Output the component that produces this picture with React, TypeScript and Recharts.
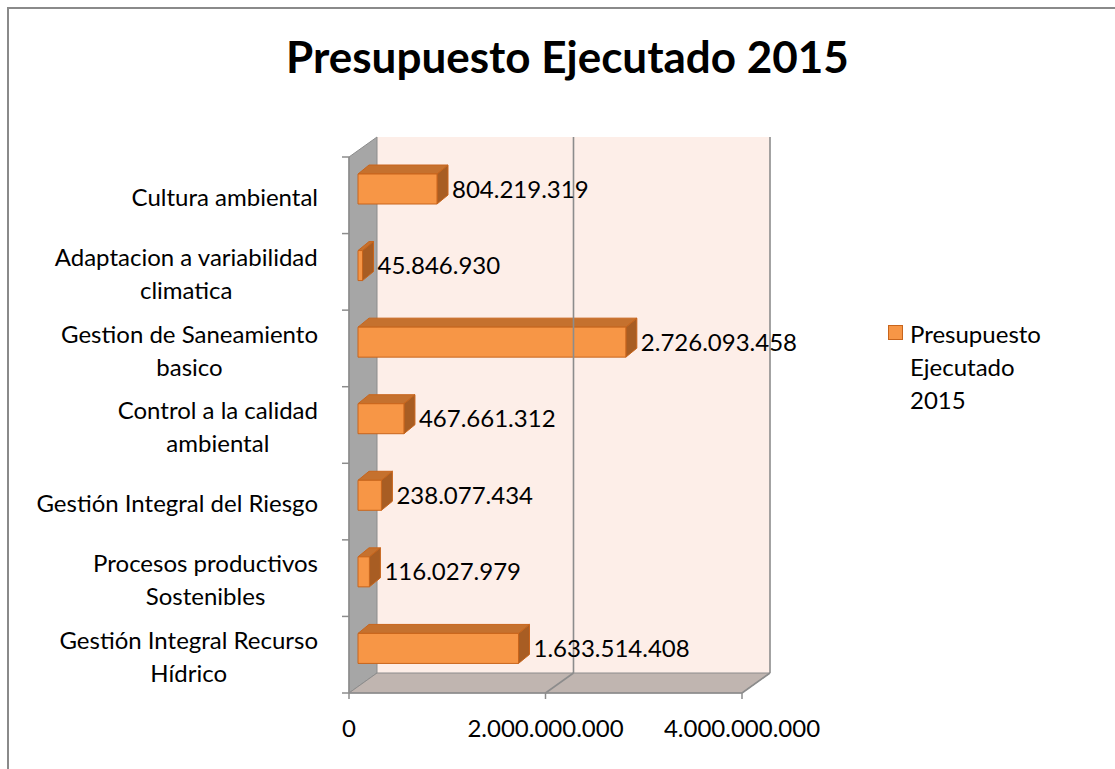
import React from 'react'
import { BarChart, Bar, XAxis, YAxis, ReferenceArea, ReferenceLine, LabelList, Legend } from 'recharts'

const title = 'Presupuesto Ejecutado 2015'
const seriesName = 'Presupuesto Ejecutado 2015'
const legendLines = ['Presupuesto', 'Ejecutado', '2015']

// top to bottom, as in the picture
const categories = [
  'Cultura ambiental',
  'Adaptacion a variabilidad\nclimatica',
  'Gestion de Saneamiento\nbasico',
  'Control a la calidad\nambiental',
  'Gestión Integral del Riesgo',
  'Procesos productivos\nSostenibles',
  'Gestión Integral Recurso\nHídrico',
]
const values = [804219319, 45846930, 2726093458, 467661312, 238077434, 116027979, 1633514408]
const xTicks = [0, 2000000000, 4000000000]

const data = categories.map((name, i) => ({ name, value: values[i] }))

const FONT = 'Lato, "Open Sans", sans-serif'
const FS = 24
const LINE_H = 33

const W = 1115
const H = 769
const PLOT_LEFT = 349
const PLOT_RIGHT = 742
const PLOT_TOP = 157
const PLOT_BOTTOM = 693
const BAND = (PLOT_BOTTOM - PLOT_TOP) / categories.length

// depth of the walls, position of the bars in depth, bar thickness
const DX = 28, DY = -20
const BX = 9, BY = -6
const TX = 11, TY = -9

const FRONT = '#F79646'
const TOP = '#C5712E'
const SIDE = '#A85D23'
const EDGE = '#C8651C'
const GRID = '#8C8C8C'

const fmt = (v: number) => String(Math.round(v)).replace(/\B(?=(\d{3})+(?!\d))/g, '.')

let ctx: CanvasRenderingContext2D | null = null
const measure = (s: string) => {
  if (!ctx) ctx = document.createElement('canvas').getContext('2d')
  if (!ctx) return s.length * FS * 0.5
  ctx.font = `${FS}px ${FONT}`
  return ctx.measureText(s).width
}

const Walls = (props: any) => {
  const { x, y, width, height } = props
  const b = y + height
  return (
    <g>
      <rect x={x + DX} y={y + DY} width={width} height={height} fill="#FDEEE8" />
      <polygon
        points={`${x},${y} ${x + DX},${y + DY} ${x + DX},${b + DY} ${x},${b}`}
        fill="#A6A6A6" stroke={GRID} strokeWidth={1}
      />
      <polygon
        points={`${x},${b} ${x + DX},${b + DY} ${x + width + DX},${b + DY} ${x + width},${b}`}
        fill="#C0B5B0" stroke={GRID} strokeWidth={1}
      />
    </g>
  )
}

const WallLine = (props: any) => {
  const { x1, y1, y2 } = props
  const top = Math.min(y1, y2)
  const bot = Math.max(y1, y2)
  return (
    <g stroke={GRID} strokeWidth={1.6} fill="none">
      <line x1={x1 + DX} y1={top + DY} x2={x1 + DX} y2={bot + DY} />
      <line x1={x1} y1={bot} x2={x1 + DX} y2={bot + DY} />
    </g>
  )
}

const Box3D = (props: any) => {
  const { x, y, width, height } = props
  const w = Math.max(width, 0)
  const fx = x + BX
  const fy = y + BY
  return (
    <g strokeWidth={1} stroke={EDGE} strokeLinejoin="round">
      <polygon points={`${fx},${fy} ${fx + TX},${fy + TY} ${fx + w + TX},${fy + TY} ${fx + w},${fy}`} fill={TOP} />
      <polygon points={`${fx + w},${fy} ${fx + w + TX},${fy + TY} ${fx + w + TX},${fy + height + TY} ${fx + w},${fy + height}`} fill={SIDE} />
      <rect x={fx} y={fy} width={w} height={height} fill={FRONT} />
    </g>
  )
}

const ValueLabel = (props: any) => {
  const { x, y, width, height, value } = props
  return (
    <text x={x + width + BX + TX + 4} y={y + height / 2 + BY} dy="0.36em" fontFamily={FONT} fontSize={FS} fill="#000">
      {fmt(value)}
    </text>
  )
}

const CategoryTick = (props: any) => {
  const { y, payload, index } = props
  const lines = String(payload.value).split('\n')
  const w = Math.max(...lines.map(measure))
  const cx = 318 - w / 2
  const y0 = y + 2 - ((lines.length - 1) * LINE_H) / 2
  return (
    <g>
      <line x1={PLOT_LEFT - 7} x2={PLOT_LEFT} y1={y - BAND / 2} y2={y - BAND / 2} stroke={GRID} strokeWidth={1.5} />
      {index === categories.length - 1 && (
        <line x1={PLOT_LEFT - 7} x2={PLOT_LEFT} y1={y + BAND / 2} y2={y + BAND / 2} stroke={GRID} strokeWidth={1.5} />
      )}
      <text textAnchor="middle" fontFamily={FONT} fontSize={FS} fill="#000">
        {lines.map((l, i) => (
          <tspan key={i} x={cx} y={y0 + i * LINE_H} dy="0.36em">{l}</tspan>
        ))}
      </text>
    </g>
  )
}

const LegendBox = () => (
  <div style={{ position: 'relative', fontFamily: FONT, fontSize: FS, lineHeight: `${LINE_H}px`, color: '#000' }}>
    <div style={{ position: 'absolute', left: 2, top: 8, width: 13, height: 13, background: FRONT, border: `1px solid ${EDGE}` }} />
    <div style={{ marginLeft: 24 }}>
      {legendLines.map((l, i) => <div key={i}>{l}</div>)}
    </div>
  </div>
)

export default function App() {
  return (
    <div style={{ position: 'absolute', left: 0, top: 0, width: W, height: H, overflow: 'hidden', background: '#fff' }}>
      <div style={{ position: 'absolute', left: 7, top: 7, width: 1300, height: 1000, borderLeft: '2px solid #8a8a8a', borderTop: '2px solid #8a8a8a' }} />
      <div style={{ position: 'absolute', left: 0, top: 30, width: 1135, textAlign: 'center', fontFamily: FONT, fontWeight: 700, fontSize: 44, lineHeight: '52px', color: '#000' }}>
        {title}
      </div>
      <div style={{ position: 'absolute', left: 0, top: 0 }}>
        <BarChart
          width={W}
          height={H}
          data={data}
          layout="vertical"
          margin={{ top: PLOT_TOP, right: W - PLOT_RIGHT, bottom: 0, left: 0 }}
        >
          <XAxis
            type="number"
            domain={[0, 4000000000]}
            ticks={xTicks}
            tickFormatter={fmt}
            height={H - PLOT_BOTTOM}
            interval={0}
            tick={{ fontFamily: FONT, fontSize: FS, fill: '#000' }}
            tickSize={6}
            tickMargin={21}
            stroke={GRID}
            axisLine={{ stroke: GRID, strokeWidth: 1.5 }}
            tickLine={{ stroke: GRID, strokeWidth: 1.5 }}
          />
          <YAxis
            type="category"
            dataKey="name"
            width={PLOT_LEFT}
            interval={0}
            tick={<CategoryTick />}
            tickLine={false}
            axisLine={{ stroke: GRID, strokeWidth: 1.5 }}
          />
          <ReferenceArea x1={0} x2={4000000000} shape={<Walls />} ifOverflow="visible" />
          <ReferenceLine x={2000000000} shape={<WallLine />} />
          <ReferenceLine x={4000000000} shape={<WallLine />} />
          <Legend
            layout="horizontal"
            verticalAlign="middle"
            align="center"
            wrapperStyle={{ left: 886, top: 317, width: 220 }}
            content={<LegendBox />}
          />
          <Bar dataKey="value" name={seriesName} barSize={30} shape={<Box3D />} isAnimationActive={false}>
            <LabelList dataKey="value" content={<ValueLabel />} />
          </Bar>
        </BarChart>
      </div>
    </div>
  )
}
